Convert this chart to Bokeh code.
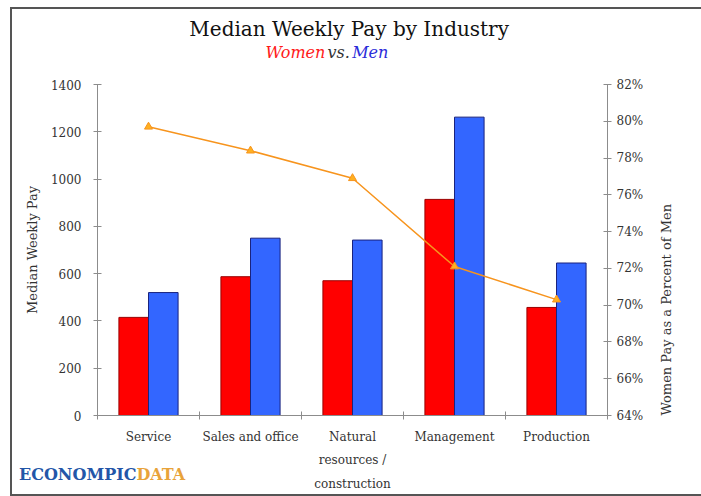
import math
import numpy as np
from bokeh.plotting import figure
from bokeh.layouts import column
from bokeh.models import (Range1d, LinearAxis, FixedTicker, PrintfTickFormatter,
                          CustomJSTickFormatter, ColumnDataSource, Div)
from bokeh.core.properties import value
from bokeh.embed import file_html
from bokeh.resources import INLINE

# ---- data ----
categories = ["Service", "Sales and office", "Natural\nresources /\nconstruction",
              "Management", "Production"]
women_pay = [415, 587, 570, 914, 457]
men_pay = [520, 750, 742, 1262, 645]
women_pct = [79.7, 78.4, 76.9, 72.1, 70.3]
left_ticks = [0, 200, 400, 600, 800, 1000, 1200, 1400]
right_ticks = [64, 66, 68, 70, 72, 74, 76, 78, 80, 82]

title_text = "Median Weekly Pay by Industry"
subtitle_words = ["Women", "vs.", "Men"]
logo_words = ["ECONOMPIC", "DATA"]

SERIF = "DejaVu Serif"
W = 685


def bare(fig):
    fig.outline_line_color = None
    fig.xgrid.visible = False
    fig.ygrid.visible = False


# ---------- heading strip ----------
HH = 68
head = figure(width=W, height=HH, output_backend="svg", toolbar_location=None,
              x_range=Range1d(0, W), y_range=Range1d(HH, 0),
              min_border=0, x_axis_location=None, y_axis_location=None)
bare(head)
head.text(x=[338], y=[19], text=[title_text], text_align="center",
          text_baseline="middle", text_font=value(SERIF), text_font_size="20px",
          text_color="#111111")
head.text(x=[306, 324, 342], y=[43, 43, 43], text=subtitle_words,
          text_align=["right", "center", "left"], text_baseline="middle",
          text_font=value(SERIF), text_font_size="16px", text_font_style="italic",
          text_color=["#ff1a1a", "#333333", "#2b2bd9"])

# ---------- main chart ----------
idx = np.arange(len(categories)) + 0.5
bw = 0.29
src = ColumnDataSource(dict(
    xr=idx - bw / 2, xb=idx + bw / 2, x=idx,
    women=women_pay, men=men_pay, pct=women_pct))

p = figure(width=W, height=417, output_backend="svg", toolbar_location=None,
           x_range=Range1d(0, 5), y_range=Range1d(0, 1400),
           min_border_left=85, min_border_right=90, min_border_top=7,
           min_border_bottom=76, y_axis_location=None, x_axis_location=None)
bare(p)
p.extra_y_ranges = {"pct": Range1d(64, 82)}

p.vbar(x="xr", top="women", width=bw, bottom=0, source=src,
       fill_color="#ff0000", line_color="#9a0000", line_width=1)
p.vbar(x="xb", top="men", width=bw, bottom=0, source=src,
       fill_color="#3366ff", line_color="#1a237e", line_width=1)
p.line(x="x", y="pct", source=src, y_range_name="pct",
       line_color="#f7941d", line_width=1.5)
p.scatter(x="x", y="pct", source=src, y_range_name="pct", marker="triangle",
          size=8, fill_color="#ffb020", line_color="#f7941d", line_width=1)

axis_color = "#8c8c8c"
ax_l = LinearAxis(ticker=FixedTicker(ticks=left_ticks), axis_label="Median Weekly Pay")
ax_r = LinearAxis(y_range_name="pct", ticker=FixedTicker(ticks=right_ticks),
                  formatter=PrintfTickFormatter(format="%d%%"),
                  axis_label="Women Pay as a Percent of Men")
ax_b = LinearAxis(ticker=FixedTicker(ticks=list(idx), minor_ticks=[0, 1, 2, 3, 4, 5]),
                  formatter=CustomJSTickFormatter(args=dict(labels=categories),
                                                  code="return labels[Math.round(tick - 0.5)];"))
for ax in (ax_l, ax_r, ax_b):
    ax.axis_line_color = axis_color
    ax.major_tick_line_color = axis_color
    ax.minor_tick_line_color = axis_color
    ax.major_label_text_font = SERIF
    ax.major_label_text_font_size = "12px"
    ax.major_label_text_color = "#333333"
    ax.axis_label_text_font = SERIF
    ax.axis_label_text_font_size = "13px"
    ax.axis_label_text_font_style = "normal"
    ax.axis_label_text_color = "#333333"
for ax in (ax_l, ax_r):
    ax.major_tick_in = 4
    ax.major_tick_out = 4
    ax.minor_tick_in = 0
    ax.minor_tick_out = 0
ax_l.major_label_standoff = 12
ax_r.major_label_standoff = 5
ax_b.major_tick_in = 0
ax_b.major_tick_out = 0
ax_b.minor_tick_in = 4
ax_b.minor_tick_out = 4
ax_b.major_label_standoff = 10
ax_b.major_label_text_line_height = 1.7
ax_l.axis_label_standoff = 8
ax_r.axis_label_standoff = 20
ax_r.axis_label_orientation = math.pi / 2
ax_r.axis_label_align = "start"
p.add_layout(ax_l, "left")
p.add_layout(ax_r, "right")
p.add_layout(ax_b, "below")

# ---------- logo: HTML text overlaid on the chart's empty bottom-left corner ----------
span_style = ("font-family: 'DejaVu Serif'; font-weight: bold; font-size: 16px; "
              "line-height: 20px; color: {};")
logo_html = ('<div style="padding-left: 2px; white-space: nowrap;">'
             f'<span style="{span_style.format("#2356a8")}">{logo_words[0]}</span>'
             f'<span style="{span_style.format("#e8a33a")}">{logo_words[1]}</span>'
             '</div>')
logo = Div(text=logo_html, width=W, height=20)
logo.styles = {"margin-top": "-29px", "margin-bottom": "9px",
               "position": "relative", "z-index": "10"}

layout = column(head, p, logo, spacing=0)
layout.styles = {"margin-left": "10px", "margin-top": "7px",
                 "border": "2px solid #555555"}

open("out.html", "w").write(file_html(layout, INLINE))
